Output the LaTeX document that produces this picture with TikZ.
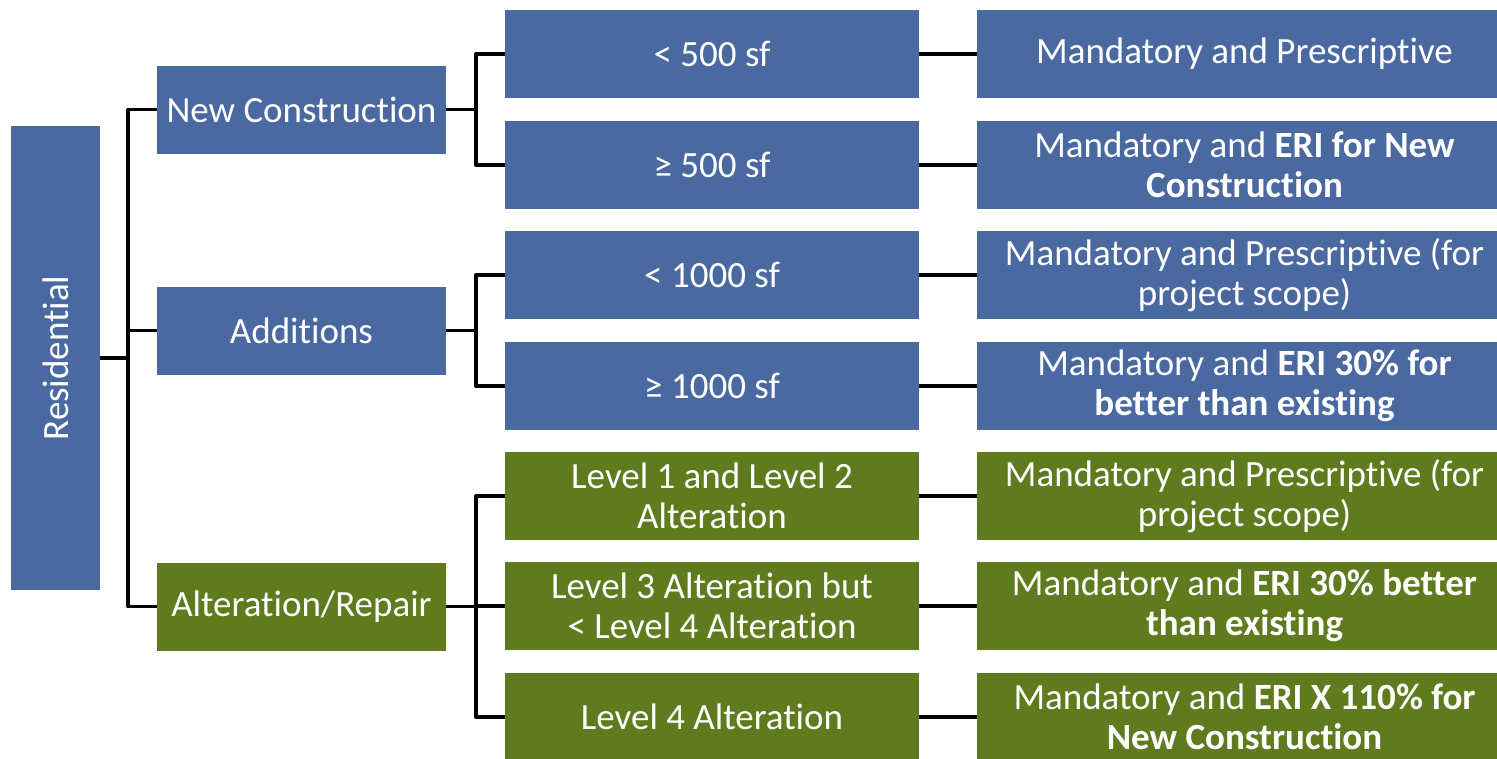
\documentclass[tikz,border=0pt]{standalone}
\usepackage{fontspec}
\setmainfont{Carlito}[Ligatures={NoCommon,NoContextual}]
\definecolor{resblue}{HTML}{4A69A0}
\definecolor{resgreen}{HTML}{5F7B1E}

\begin{document}
\begin{tikzpicture}[x=1pt,y=-1pt,
  box/.style={text=white,inner sep=0pt,align=center,font=\fontsize{37}{40}\selectfont},
  blu/.style={box,fill=resblue},
  grn/.style={box,fill=resgreen},
  lev1/.style={minimum width=289pt,minimum height=88pt},
  lev2/.style={minimum width=414pt,minimum height=88pt},
  lev3/.style={minimum width=535pt,minimum height=88pt},
  link/.style={line width=3.8pt,line join=round}]

\useasboundingbox (0,0) rectangle (1497,758);

\node[blu,minimum width=89pt,minimum height=464pt] (res) at (55.5,358) {\rotatebox{90}{Residential}};

% first level
\node[blu,lev1] (nc) at (301.5,109.5) {New Construction};
\node[blu,lev1] (add) at (301.5,330.5) {Additions};
\node[grn,lev1] (alt) at (301.5,606.5) {Alteration/Repair};

% second level
\node[blu,lev2] (nca) at (712,54) {< 500 sf};
\node[blu,lev2] (ncb) at (712,165) {≥ 500 sf};
\node[blu,lev2] (adda) at (712,275) {< 1000 sf};
\node[blu,lev2] (addb) at (712,386) {≥ 1000 sf};
\node[grn,lev2] (alta) at (712,496) {Level 1 and Level 2\\Alteration};
\node[grn,lev2] (altb) at (712,606) {Level 3 Alteration but\\< Level 4 Alteration};
\node[grn,lev2] (altc) at (712,717) {Level 4 Alteration};

% third level
\node[blu,lev3] (rnca) at (1244.5,54) {Mandatory and Prescriptive};
\node[blu,lev3] (rncb) at (1244.5,165) {Mandatory and \textbf{ERI for New}\\\textbf{Construction}};
\node[blu,lev3] (radda) at (1244.5,275) {Mandatory and Prescriptive (for\\project scope)};
\node[blu,lev3] (raddb) at (1244.5,386) {Mandatory and \textbf{ERI 30\% for}\\\textbf{better than existing}};
\node[grn,lev3] (ralta) at (1244.5,496) {Mandatory and Prescriptive (for\\project scope)};
\node[grn,lev3] (raltb) at (1244.5,606) {Mandatory and \textbf{ERI 30\% better}\\\textbf{than existing}};
\node[grn,lev3] (raltc) at (1244.5,717) {Mandatory and \textbf{ERI X 110\% for}\\\textbf{New Construction}};

% connectors
\foreach \a in {nc,add,alt}{
\draw[link] (res.east) -- ([xshift=28pt]res.east) |- (\a.west);}

\foreach \a/\b in {nc/nca,nc/ncb,add/adda,add/addb,alt/alta,alt/altb,alt/altc}{
\draw[link] (\a.east) -- ([xshift=30pt]\a.east) |- (\b.west);}

\foreach \a in {nca,ncb,adda,addb,alta,altb,altc}{
\draw[link] (\a.east) -- (r\a.west);}

\end{tikzpicture}
\end{document}
